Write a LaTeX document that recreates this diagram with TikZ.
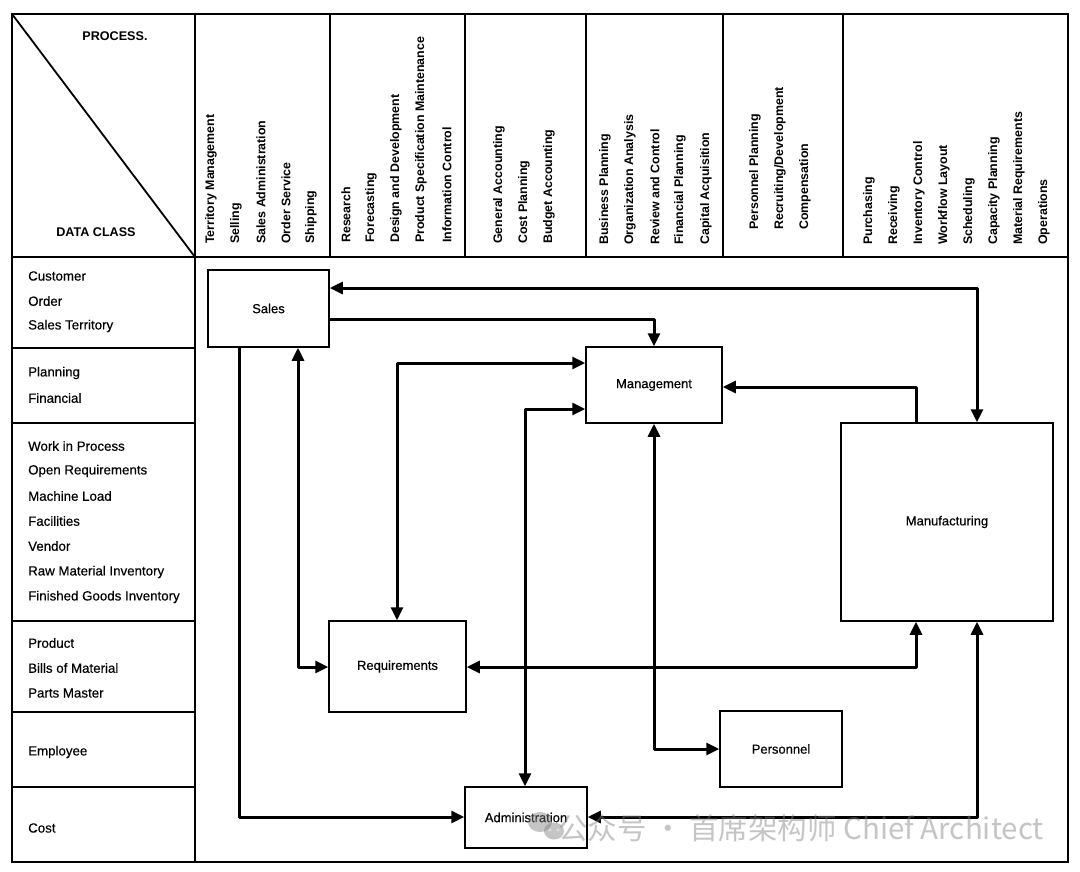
\documentclass[tikz,border=0pt]{standalone}
\usepackage{fontspec}
\setmainfont{Liberation Sans}
\newfontfamily\medfont[FakeBold=0.35]{Liberation Sans}
\newfontfamily\cjk{Noto Sans CJK SC}
\usetikzlibrary{arrows.meta,calc}
\begin{document}
\begin{tikzpicture}[x=1pt,y=-1pt,
  frame/.style={line width=1.8pt},
  box/.style={draw,line width=1.5pt,inner sep=0pt,font=\medfont\fontsize{13}{15}\selectfont},
  conn/.style={line width=3pt,line join=round},
  >={Triangle[length=13pt,width=12pt]},
  proc/.style={rotate=90,anchor=west,inner sep=0pt,font=\bfseries\fontsize{12.4}{14}\selectfont},
  dc/.style={anchor=west,inner sep=0pt,font=\medfont\fontsize{13.3}{15}\selectfont},
  hdr/.style={inner sep=0pt,font=\bfseries\fontsize{12.6}{14}\selectfont}]
\useasboundingbox[fill=white] (0,0) rectangle (1080,871);

% table frame
\draw[frame] (12,14) rectangle (1068,862);
\draw[frame] (195,14) -- (195,862);
\draw[frame] (12,257) -- (1068,257);
\draw[frame] (12,14) -- (195,257);
\foreach \x in {330,465,586,723,843} \draw[frame] (\x,14) -- (\x,257);
\foreach \y in {348,423,621,712,787} \draw[frame] (12,\y) -- (195,\y);

\node[hdr] (hproc) at (115,36) {PROCESS.};
\node[hdr] (hdata) at (96,232) {DATA CLASS};

% process labels
\node[proc] (p1) at (211,244) {Territory Management};
\node[proc] (p2) at (236,244) {Selling};
\node[proc] (p3) at (261,244) {Sales Administration};
\node[proc] (p4) at (286,244) {Order Service};
\node[proc] (p5) at (311,244) {Shipping};
\node[proc] (p6) at (346,243) {Research};
\node[proc] (p7) at (371,243) {Forecasting};
\node[proc] (p8) at (396,243) {Design and Development};
\node[proc] (p9) at (421,243) {Product Specification Maintenance};
\node[proc] (p10) at (447,243) {Information Control};
\node[proc] (p11) at (499,244) {General Accounting};
\node[proc] (p12) at (524,244) {Cost Planning};
\node[proc] (p13) at (549,244) {Budget Accounting};
\node[proc] (p14) at (605,245) {Business Planning};
\node[proc] (p15) at (630,245) {Organization Analysis};
\node[proc] (p16) at (655,245) {Review and Control};
\node[proc] (p17) at (680,245) {Financial Planning};
\node[proc] (p18) at (706,245) {Capital Acquisition};
\node[proc] (p19) at (755,230) {Personnel Planning};
\node[proc] (p20) at (780,230) {Recruiting/Development};
\node[proc] (p21) at (805,230) {Compensation};
\node[proc] (p22) at (869,245) {Purchasing};
\node[proc] (p23) at (894,245) {Receiving};
\node[proc] (p24) at (919,245) {Inventory Control};
\node[proc] (p25) at (944,245) {Workflow Layout};
\node[proc] (p26) at (969,245) {Scheduling};
\node[proc] (p27) at (994,245) {Capacity Planning};
\node[proc] (p28) at (1019,245) {Material Requirements};
\node[proc] (p29) at (1044,245) {Operations};

% data classes
\node[dc] (d1) at (28,276) {Customer};
\node[dc] (d2) at (28,301) {Order};
\node[dc] (d3) at (28,326) {Sales Territory};
\node[dc] (d4) at (28,373) {Planning};
\node[dc] (d5) at (28,398) {Financial};
\node[dc] (d6) at (28,446) {Work in Process};
\node[dc] (d7) at (28,471) {Open Requirements};
\node[dc] (d8) at (28,496) {Machine Load};
\node[dc] (d9) at (28,521) {Facilities};
\node[dc] (d10) at (28,546) {Vendor};
\node[dc] (d11) at (28,572) {Raw Material Inventory};
\node[dc] (d12) at (28,597) {Finished Goods Inventory};
\node[dc] (d13) at (28,643) {Product};
\node[dc] (d14) at (28,668) {Bills of Material};
\node[dc] (d15) at (28,693) {Parts Master};
\node[dc] (d16) at (28,752) {Employee};
\node[dc] (d17) at (28,828) {Cost};

% boxes
\node[box,minimum width=121pt,minimum height=77pt] (sales) at (268.5,308.5) {Sales};
\node[box,minimum width=136pt,minimum height=76pt] (mgmt) at (654,385) {Management};
\node[box,minimum width=212pt,minimum height=198pt] (mfg) at (947,522) {Manufacturing};
\node[box,minimum width=137pt,minimum height=91pt] (req) at (397.5,666.5) {Requirements};
\node[box,minimum width=122pt,minimum height=76pt] (pers) at (781,749) {Personnel};
\node[box,minimum width=122pt,minimum height=61pt] (admin) at (526,817.5) {Administration};

% helper coordinates
\coordinate (h288) at (0,288);
\coordinate (h319) at (0,319);
\coordinate (h363) at (0,363);
\coordinate (h387) at (0,387);
\coordinate (h409) at (0,409);
\coordinate (h667) at (0,667);
\coordinate (h749) at (0,749);
\coordinate (h817) at (0,817);
\coordinate (v239) at (239,0);
\coordinate (v298) at (298,0);
\coordinate (v397) at (397,0);
\coordinate (v525) at (525,0);
\coordinate (v654) at (654,0);
\coordinate (v916) at (916,0);
\coordinate (v977) at (977,0);

% connectors
\draw[conn,<->] (sales.east |- h288) -| (mfg.north -| v977);
\draw[conn,->] (sales.east |- h319) -| (mgmt.north -| v654);
\draw[conn,->] (mfg.north -| v916) |- (mgmt.east |- h387);
\draw[conn,<->] (req.north -| v397) |- (mgmt.west |- h363);
\draw[conn,<->] (admin.north -| v525) |- (mgmt.west |- h409);
\draw[conn,<->] (sales.south -| v298) |- (req.west |- h667);
\draw[conn,->] (sales.south -| v239) |- (admin.west |- h817);
\draw[conn,<->] (req.east |- h667) -| (mfg.south -| v916);
\draw[conn,<->] (mgmt.south -| v654) |- (pers.west |- h749);
\draw[conn,<->] (admin.east |- h817) -| (mfg.south -| v977);

% watermark
\begin{scope}[opacity=0.45]
\fill[gray] (540,822) ellipse (12pt and 10pt);
\fill[gray] (554,831) ellipse (10pt and 8.5pt);
\fill[white] (550,830) circle (1.6pt);
\fill[white] (558,830) circle (1.6pt);
\node[anchor=west,inner sep=0pt,text=gray,font=\cjk\fontsize{29.5}{32}\selectfont] (wm) at (558,828) {公众号 · 首席架构师 Chief Architect};
\end{scope}
\end{tikzpicture}
\end{document}
